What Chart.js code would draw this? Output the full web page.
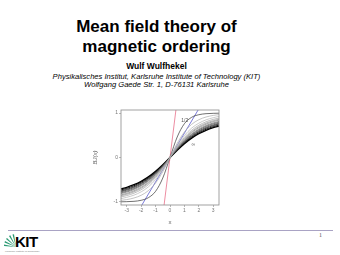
<!DOCTYPE html>
<html>
<head>
<meta charset="utf-8">
<script src="https://cdn.jsdelivr.net/npm/chart.js@4"></script>
<style>
  html, body { margin: 0; padding: 0; background: #fff; }
  body { width: 340px; height: 255px; position: relative; overflow: hidden; font-family: "Liberation Sans", Arial, sans-serif; }
  .t { position: absolute; left: 0; width: 313px; text-align: center; white-space: nowrap; color: #000; }
  #chartBox { position: absolute; left: 92px; top: 104px; width: 132px; height: 122px; }
</style>
</head>
<body>
<div class="t" style="top:18px;font:bold 17px/17px 'Liberation Sans';">Mean field theory of</div>
<div class="t" style="top:38px;font:bold 17px/17px 'Liberation Sans';">magnetic ordering</div>
<div class="t" style="top:61.5px;font:bold 8.5px/9px 'Liberation Sans';">Wulf Wulfhekel</div>
<div class="t" style="top:73.4px;font:italic 7.6px/8px 'Liberation Sans';">Physikalisches Institut, Karlsruhe Institute of Technology (KIT)</div>
<div class="t" style="top:81.4px;font:italic 7.6px/8px 'Liberation Sans';">Wolfgang Gaede Str. 1, D-76131 Karlsruhe</div>

<div id="chartBox"><canvas id="mycanvas" width="132" height="122"></canvas></div>

<div style="position:absolute;left:8px;top:230px;width:325px;height:1px;background:#a9a3c4;"></div>
<svg style="position:absolute;left:4px;top:234px;" width="14" height="14" viewBox="0 0 14 14">
  <g fill="#2a9a73">
    <polygon points="12,13 0,12 0,10.5"/>
    <polygon points="12,13 0.5,8.5 1,7"/>
    <polygon points="12,13 2,5 3,4"/>
    <polygon points="12,13 5,2 6.3,1.3"/>
    <polygon points="12,13 8.5,0.5 10,0.3"/>
  </g>
</svg>
<div style="position:absolute;left:15px;top:235px;font:bold 15px/13px 'Liberation Sans';letter-spacing:-0.5px;color:#000;">KIT</div>
<div style="position:absolute;left:5px;top:250px;font:2.4px/3px 'Liberation Sans';color:#777;">Karlsruhe Institute of Technology</div>
<div style="position:absolute;left:319px;top:232px;font:6px/7px 'Liberation Serif';color:#555;">1</div>

<script>
var xVals = [-3.4, -3, -2.5, -2, -1.5, -1, -0.5, 0, 0.5, 1, 1.5, 2, 2.5, 3, 3.4];

var jHalf  = [-0.998, -0.995, -0.987, -0.964, -0.905, -0.762, -0.462, 0, 0.462, 0.762, 0.905, 0.964, 0.987, 0.995, 0.998];
var jOne   = [-0.966, -0.948, -0.912, -0.851, -0.746, -0.575, -0.320, 0, 0.320, 0.575, 0.746, 0.851, 0.912, 0.948, 0.966];
var jThreeHalf = [-0.927, -0.897, -0.848, -0.773, -0.662, -0.495, -0.274, 0, 0.274, 0.495, 0.662, 0.773, 0.848, 0.897, 0.927];
var jTwo   = [-0.889, -0.858, -0.804, -0.726, -0.613, -0.453, -0.245, 0, 0.245, 0.453, 0.613, 0.726, 0.804, 0.858, 0.889];
var jFiveHalf = [-0.862, -0.829, -0.773, -0.694, -0.581, -0.426, -0.228, 0, 0.228, 0.426, 0.581, 0.694, 0.773, 0.829, 0.862];
var jThree = [-0.843, -0.808, -0.750, -0.671, -0.559, -0.400, -0.219, 0, 0.219, 0.400, 0.559, 0.671, 0.750, 0.808, 0.843];
var jFour  = [-0.814, -0.779, -0.721, -0.640, -0.530, -0.384, -0.204, 0, 0.204, 0.384, 0.530, 0.640, 0.721, 0.779, 0.814];
var jFive  = [-0.795, -0.760, -0.701, -0.621, -0.512, -0.371, -0.194, 0, 0.194, 0.371, 0.512, 0.621, 0.701, 0.760, 0.795];
var jSeven = [-0.773, -0.737, -0.678, -0.598, -0.492, -0.355, -0.187, 0, 0.187, 0.355, 0.492, 0.598, 0.678, 0.737, 0.773];
var jTen   = [-0.755, -0.718, -0.659, -0.580, -0.476, -0.342, -0.180, 0, 0.180, 0.342, 0.476, 0.580, 0.659, 0.718, 0.755];
var jTwenty = [-0.731, -0.695, -0.636, -0.558, -0.457, -0.327, -0.172, 0, 0.172, 0.327, 0.457, 0.558, 0.636, 0.695, 0.731];
var jInf   = [-0.708, -0.672, -0.613, -0.537, -0.438, -0.313, -0.164, 0, 0.164, 0.313, 0.438, 0.537, 0.613, 0.672, 0.708];

var redX = [-0.41, 0.41];
var redY = [-1.07, 1.07];
var blueX = [-1.95, 1.95];
var blueY = [-1.07, 1.07];

var xTicks = [-3, -2, -1, 0, 1, 2, 3];
var yTicks = [-1, 0, 1];

var labelText = ['1/2', '\u221E'];
var labelX = [0.78, 1.5];
var labelY = [0.82, 0.3];

function pts(xs, ys) {
  var out = [];
  for (var i in xs) out.push({x: xs[i], y: ys[i]});
  return out;
}

var curves = [
  {d: jOne, c: '#aaaaaa', w: 0.7},
  {d: jThreeHalf, c: '#b4b4b4', w: 0.7},
  {d: jTwo, c: '#a0a0a0', w: 0.7},
  {d: jFiveHalf, c: '#909090', w: 0.7},
  {d: jThree, c: '#808080', w: 0.7},
  {d: jFour, c: '#6a6a6a', w: 0.7},
  {d: jFive, c: '#555555', w: 0.8},
  {d: jSeven, c: '#404040', w: 0.8},
  {d: jTen, c: '#2a2a2a', w: 0.9},
  {d: jTwenty, c: '#151515', w: 1},
  {d: jInf, c: '#000000', w: 1.4},
  {d: jHalf, c: '#333333', w: 0.7}
];

var datasets = [];
for (var k in curves) {
  datasets.push({
    data: pts(xVals, curves[k].d),
    borderColor: curves[k].c,
    borderWidth: curves[k].w,
    showLine: true,
    pointRadius: 0,
    cubicInterpolationMode: 'monotone'
  });
}
datasets.push({data: pts(blueX, blueY), borderColor: '#5b5bd0', borderWidth: 0.8, showLine: true, pointRadius: 0});
datasets.push({data: pts(redX, redY), borderColor: '#e8708a', borderWidth: 0.8, showLine: true, pointRadius: 0});

var framePlugin = {
  id: 'frame',
  afterDatasetsDraw: function(chart) {
    var a = chart.chartArea, ctx = chart.ctx;
    ctx.save();
    ctx.strokeStyle = '#8a8a8a';
    ctx.lineWidth = 0.8;
    ctx.strokeRect(a.left, a.top, a.right - a.left, a.bottom - a.top);
    ctx.fillStyle = '#555';
    ctx.font = '5px "Liberation Sans"';
    ctx.textBaseline = 'middle';
    for (var i in labelText) {
      ctx.fillText(labelText[i], chart.scales.x.getPixelForValue(labelX[i]), chart.scales.y.getPixelForValue(labelY[i]));
    }
    ctx.restore();
  }
};

var ctx = document.getElementById('mycanvas');
var Graph = new Chart(ctx, {
  type: 'scatter',
  data: {datasets: datasets},
  options: {
    responsive: false,
    animation: false,
    devicePixelRatio: 1,
    layout: {padding: {top: 6, right: 5, left: 0, bottom: 0}},
    plugins: {legend: {display: false}, tooltip: {enabled: false}},
    scales: {
      x: {
        type: 'linear', min: -3.4, max: 3.4,
        afterBuildTicks: function(s) { s.ticks = xTicks.map(function(v){ return {value: v}; }); },
        afterFit: function(s) { s.height = 21; },
        grid: {drawOnChartArea: false, tickLength: 2, color: '#8a8a8a', lineWidth: 0.6},
        border: {display: false},
        ticks: {font: {size: 5, family: 'Liberation Sans'}, color: '#777', padding: 1, maxRotation: 0},
        title: {display: true, text: 'x', font: {size: 6, family: 'Liberation Sans'}, color: '#666', padding: 0}
      },
      y: {
        type: 'linear', min: -1.07, max: 1.07,
        afterBuildTicks: function(s) { s.ticks = yTicks.map(function(v){ return {value: v}; }); },
        afterFit: function(s) { s.width = 29; },
        grid: {drawOnChartArea: false, tickLength: 2, color: '#8a8a8a', lineWidth: 0.6},
        border: {display: false},
        ticks: {font: {size: 5, family: 'Liberation Sans'}, color: '#777', padding: 1},
        title: {display: true, text: 'BJ(x)', font: {size: 6, style: 'italic', family: 'Liberation Sans'}, color: '#666', padding: 0}
      }
    }
  },
  plugins: [framePlugin]
});
</script>
</body>
</html>
